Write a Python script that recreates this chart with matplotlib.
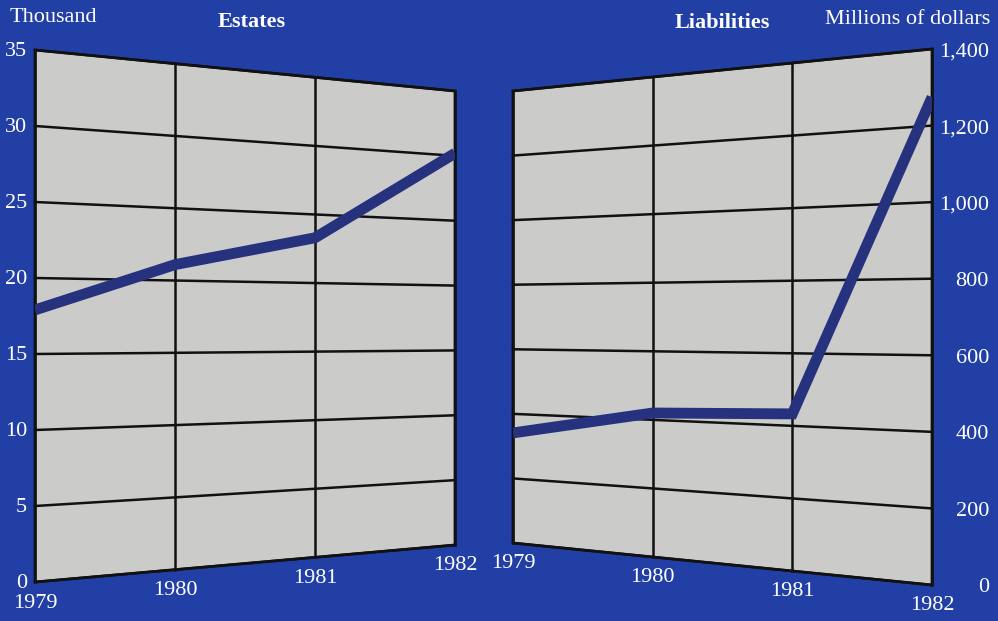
import numpy as np
import matplotlib
matplotlib.use('Agg')
import matplotlib.pyplot as plt
from matplotlib.transforms import Transform, offset_copy

# data
years = [1979, 1980, 1981, 1982]
estates = [17.9, 21.1, 23.3, 30.2]          # thousand
liabilities = [341, 420, 433, 1274]         # millions of dollars
estate_ticks = [0, 5, 10, 15, 20, 25, 30, 35]
liab_ticks = [0, 200, 400, 600, 800, 1000, 1200, 1400]
liab_labels = ['0', '200', '400', '600', '800', '1,000', '1,200', '1,400']

bg = '#213fa5'
panel = '#cbcbc9'
linec = '#27327e'
plt.rcParams['font.family'] = ['Liberation Serif', 'DejaVu Serif']
fs = 16


class Slanted(Transform):
    # maps (year, value) onto a panel drawn in perspective (pixel coords)
    input_dims = 2
    output_dims = 2
    is_separable = False
    has_inverse = False

    def __init__(self, x0, x1, top0, top1, bot0, bot1, vmax):
        super().__init__()
        self.x0, self.x1 = x0, x1
        self.top0, self.top1 = top0, top1
        self.bot0, self.bot1 = bot0, bot1
        self.vmax = vmax

    def transform_non_affine(self, values):
        values = np.asarray(values, dtype=float).reshape(-1, 2)
        t = (values[:, 0] - years[0]) / (years[-1] - years[0])
        X = self.x0 + t * (self.x1 - self.x0)
        top = self.top0 + t * (self.top1 - self.top0)
        bot = self.bot0 + t * (self.bot1 - self.bot0)
        Y = bot - values[:, 1] / self.vmax * (bot - top)
        return np.column_stack([X, Y])


fig = plt.figure(figsize=(9.98, 6.21), dpi=100)
fig.patch.set_facecolor(bg)
ax = fig.add_axes([0, 0, 1, 1])
ax.set_facecolor(bg)
ax.set_autoscale_on(False)
ax.set_xlim(0, 998)
ax.set_ylim(621, 0)
ax.axis('off')


def draw_panel(persp, ticks, vals, vmax):
    T = persp + ax.transData
    poly = ax.fill([years[0], years[-1], years[-1], years[0]], [0, 0, vmax, vmax],
                   transform=T, facecolor=panel, edgecolor='none', zorder=1)[0]
    for v in ticks:
        ax.plot([years[0], years[-1]], [v, v], transform=T, color='#111111', lw=1.8, zorder=2)
    for yr in years:
        ax.plot([yr, yr], [0, vmax], transform=T, color='#111111', lw=1.8, zorder=2)
    ax.fill([years[0], years[-1], years[-1], years[0]], [0, 0, vmax, vmax],
            transform=T, facecolor='none', edgecolor='#111111', lw=2, zorder=2)
    ln, = ax.plot(years, vals, transform=T, color=linec, lw=7.8,
                  solid_capstyle='butt', solid_joinstyle='miter', zorder=3)
    ln.set_clip_path(poly)
    for yr in years:
        ax.text(yr, 0, str(yr), transform=offset_copy(T, fig=fig, x=0, y=-21, units='dots'),
                ha='center', va='center', color='white', fontsize=fs)
    return T


left = Slanted(35, 455, 50, 91, 582, 545, 35)
right = Slanted(513, 932, 91, 49, 543, 585, 1400)

TL = draw_panel(left, estate_ticks, estates, 35)
TR = draw_panel(right, liab_ticks, liabilities, 1400)

for v in estate_ticks:
    ax.text(years[0], v, str(v), transform=offset_copy(TL, fig=fig, x=-8, y=-2, units='dots'),
            ha='right', va='center', color='white', fontsize=fs)
for v, lab in zip(liab_ticks, liab_labels):
    ax.text(years[-1], v, lab, transform=offset_copy(TR, fig=fig, x=57, y=-3, units='dots'),
            ha='right', va='center', color='white', fontsize=fs)

ax.text(10, 18, 'Thousand', ha='left', va='center', color='white', fontsize=fs)
ax.text(252, 22, 'Estates', ha='center', va='center', color='white', fontsize=fs, fontweight='bold')
ax.text(722, 23, 'Liabilities', ha='center', va='center', color='white', fontsize=fs, fontweight='bold')
ax.text(990, 19, 'Millions of dollars', ha='right', va='center', color='white', fontsize=fs)

fig.savefig('out.png', dpi=100, facecolor=bg)
